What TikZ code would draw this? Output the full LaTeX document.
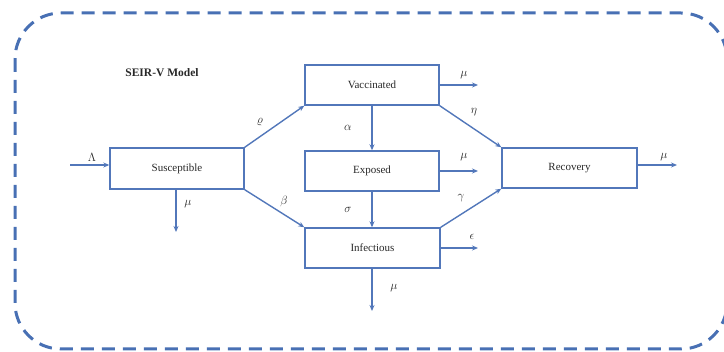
\documentclass[tikz,border=0pt]{standalone}
\usepackage{fontspec}
\setmainfont{Liberation Serif}
\usetikzlibrary{arrows.meta}
\definecolor{sblue}{RGB}{72,112,180}
\definecolor{lblue}{RGB}{82,119,186}
\definecolor{txt}{RGB}{40,40,40}
\tikzset{
  box/.style={draw=lblue, line width=1.4pt, rectangle, inner sep=0pt, text=txt, font=\fontsize{11}{13}\selectfont},
  arr/.style={draw=lblue, line width=1.4pt, -{Stealth[length=6pt,width=5pt]}},
  lbl/.style={inner sep=0pt, text=txt, font=\fontsize{11.5}{13}\selectfont},
}
\begin{document}
\begin{tikzpicture}[x=1pt,y=-1pt]
\useasboundingbox (0,0) rectangle (724,352);
\begin{scope}
\clip (0,0) rectangle (724,352);
\draw[sblue, line width=3pt, dash pattern=on 13pt off 8pt, rounded corners=46pt] (15,13) rectangle (727,349);
\end{scope}
\node[lbl, font=\fontsize{11.5}{13}\selectfont\bfseries] (title) at (162,73) {SEIR-V Model};
\node[box, minimum width=134pt, minimum height=41pt] (S) at (177,168.5) {Susceptible};
\node[box, minimum width=134pt, minimum height=40pt] (V) at (372,85) {Vaccinated};
\node[box, minimum width=134pt, minimum height=40pt] (E) at (372,171) {Exposed};
\node[box, minimum width=135pt, minimum height=40pt] (I) at (372.5,248) {Infectious};
\node[box, minimum width=135pt, minimum height=40pt] (R) at (569.5,168) {Recovery};
\coordinate (lam) at (70,165);
\coordinate (Smu) at (176,232);
\coordinate (Vmu) at (478,85);
\coordinate (Emu) at (478,171);
\coordinate (Ieps) at (478,248);
\coordinate (Imu) at (372,311);
\coordinate (Rmu) at (677,165);
\draw[arr] (lam) -- (lam -| S.west);
\draw[arr] (S.south -| Smu) -- (Smu);
\draw[arr] (S.north east) -- (V.south west);
\draw[arr] (S.south east) -- (I.north west);
\draw[arr] (V.south) -- (E.north);
\draw[arr] (E.south) -- (E.south |- I.north);
\draw[arr] (V.east) -- (Vmu);
\draw[arr] (E.east) -- (Emu);
\draw[arr] (I.east) -- (Ieps);
\draw[arr] (V.south east) -- (R.north west);
\draw[arr] (I.north east) -- (R.south west);
\draw[arr] (I.south -| Imu) -- (Imu);
\draw[arr] (Rmu -| R.east) -- (Rmu);
\node[lbl] (lLam) at (92,157) {$\Lambda$};
\node[lbl] (lSmu) at (188,204) {$\mu$};
\node[lbl] (lrho) at (260,122) {$\varrho$};
\node[lbl] (lbeta) at (284,202) {$\beta$};
\node[lbl] (lalpha) at (348,128) {$\alpha$};
\node[lbl] (lsigma) at (348,210) {$\sigma$};
\node[lbl] (lVmu) at (464,75) {$\mu$};
\node[lbl] (lEmu) at (464,157) {$\mu$};
\node[lbl] (leps) at (472,237) {$\epsilon$};
\node[lbl] (leta) at (474,112) {$\eta$};
\node[lbl] (lgamma) at (461,198) {$\gamma$};
\node[lbl] (lImu) at (394,288) {$\mu$};
\node[lbl] (lRmu) at (664,157) {$\mu$};
\end{tikzpicture}
\end{document}
